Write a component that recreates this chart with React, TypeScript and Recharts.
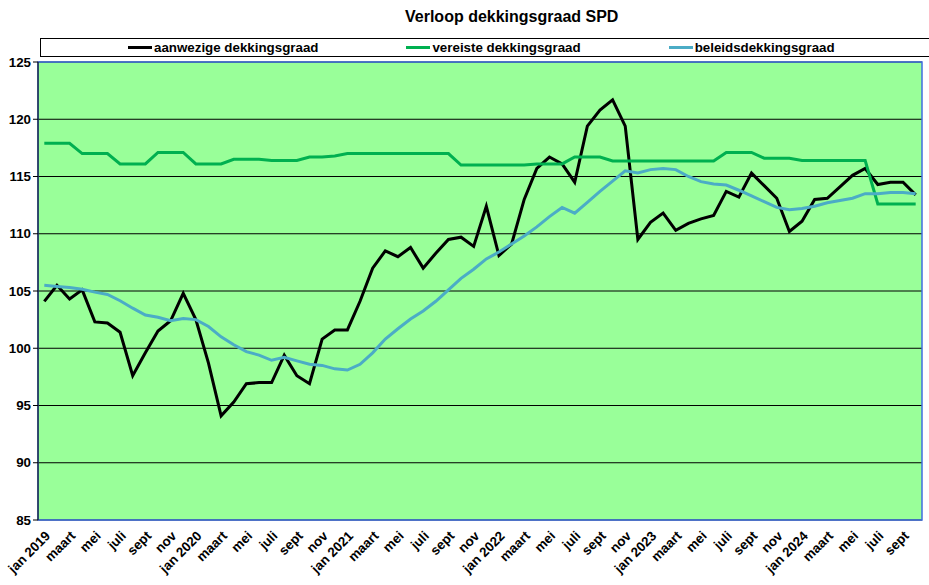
import React from 'react';
import { LineChart, Line, XAxis, YAxis, CartesianGrid, ReferenceArea } from 'recharts';

const title = 'Verloop dekkingsgraad SPD';

const categories = [
  'jan 2019', 'feb', 'maart', 'apr', 'mei', 'juni', 'juli', 'aug', 'sept', 'okt', 'nov', 'dec',
  'jan 2020', 'feb', 'maart', 'apr', 'mei', 'juni', 'juli', 'aug', 'sept', 'okt', 'nov', 'dec',
  'jan 2021', 'feb', 'maart', 'apr', 'mei', 'juni', 'juli', 'aug', 'sept', 'okt', 'nov', 'dec',
  'jan 2022', 'feb', 'maart', 'apr', 'mei', 'juni', 'juli', 'aug', 'sept', 'okt', 'nov', 'dec',
  'jan 2023', 'feb', 'maart', 'apr', 'mei', 'juni', 'juli', 'aug', 'sept', 'okt', 'nov', 'dec',
  'jan 2024', 'feb', 'maart', 'apr', 'mei', 'juni', 'juli', 'aug', 'sept', 'okt',
];

const aanwezige = [
  104.1, 105.5, 104.3, 105.1, 102.3, 102.2, 101.4, 97.6, 99.6, 101.5, 102.4, 104.8,
  102.5, 98.7, 94.1, 95.3, 96.9, 97.0, 97.0, 99.4, 97.6, 96.9, 100.8, 101.6,
  101.6, 104.1, 107.0, 108.5, 108.0, 108.8, 107.0, 108.3, 109.5, 109.7, 108.9, 112.4,
  108.1, 109.1, 113.0, 115.7, 116.7, 116.1, 114.5, 119.4, 120.8, 121.7, 119.4, 109.5,
  111.0, 111.8, 110.3, 110.9, 111.3, 111.6, 113.7, 113.2, 115.3, 114.2, 113.1, 110.2,
  111.1, 113.0, 113.1, 114.1, 115.1, 115.7, 114.3, 114.5, 114.5, 113.4,
];

const vereiste = [
  117.9, 117.9, 117.9, 117.0, 117.0, 117.0, 116.1, 116.1, 116.1, 117.1, 117.1, 117.1,
  116.1, 116.1, 116.1, 116.5, 116.5, 116.5, 116.4, 116.4, 116.4, 116.7, 116.7, 116.8,
  117.0, 117.0, 117.0, 117.0, 117.0, 117.0, 117.0, 117.0, 117.0, 116.0, 116.0, 116.0,
  116.0, 116.0, 116.0, 116.1, 116.1, 116.1, 116.7, 116.7, 116.7, 116.35, 116.35, 116.35,
  116.35, 116.35, 116.35, 116.35, 116.35, 116.35, 117.1, 117.1, 117.1, 116.6, 116.6, 116.6,
  116.4, 116.4, 116.4, 116.4, 116.4, 116.4, 112.6, 112.6, 112.6, 112.6,
];

const beleids = [
  105.5, 105.4, 105.3, 105.15, 104.9, 104.7, 104.15, 103.5, 102.9, 102.7, 102.4, 102.6,
  102.5, 101.9, 101.0, 100.3, 99.7, 99.4, 98.95, 99.2, 98.9, 98.6, 98.5, 98.2,
  98.1, 98.6, 99.6, 100.8, 101.7, 102.55, 103.25, 104.1, 105.1, 106.1, 106.9, 107.8,
  108.4, 109.1, 109.8, 110.6, 111.5, 112.3, 111.8, 112.75, 113.7, 114.6, 115.5, 115.3,
  115.6, 115.7, 115.6, 115.0, 114.55, 114.35, 114.25, 113.8, 113.3, 112.8, 112.3, 112.1,
  112.2, 112.4, 112.7, 112.9, 113.1, 113.5, 113.5, 113.6, 113.6, 113.5,
];

const yTicks = [85, 90, 95, 100, 105, 110, 115, 120, 125];

const series = [
  { key: 'aanwezige', name: 'aanwezige dekkingsgraad', color: '#000000' },
  { key: 'vereiste', name: 'vereiste dekkingsgraad', color: '#00B050' },
  { key: 'beleids', name: 'beleidsdekkingsgraad', color: '#4BACC6' },
];

const data = categories.map((c, i) => ({
  idx: i,
  label: c,
  aanwezige: aanwezige[i],
  vereiste: vereiste[i],
  beleids: beleids[i],
}));

const n = categories.length;
const boundaryTicks = [...categories.map((_, i) => i - 0.5), n - 0.5];
const labelTicks = categories.map((_, i) => i).filter((i) => i % 2 === 0);
const xDomain = [-0.5, n - 0.5];

const FONT = '"Liberation Sans", Arial, sans-serif';
const tickStyle = { fontFamily: FONT, fontSize: 13.33, fontWeight: 'bold', fill: '#000' };

export default function App() {
  return (
    <div style={{ position: 'absolute', left: 0, top: 0, width: 929, height: 585, background: '#fff', fontFamily: FONT }}>
      <div
        style={{
          position: 'absolute',
          left: 405,
          top: 7,
          fontSize: 16,
          fontWeight: 'bold',
          lineHeight: '20px',
          whiteSpace: 'nowrap',
          color: '#000',
        }}
      >
        {title}
      </div>
      <div
        style={{
          position: 'absolute',
          left: 40,
          top: 38,
          width: 880,
          height: 17,
          border: '1px solid #000',
          display: 'flex',
          alignItems: 'center',
          paddingLeft: 87,
          gap: 88,
          boxSizing: 'content-box',
        }}
      >
        {series.map((s) => (
          <div key={s.key} style={{ display: 'flex', alignItems: 'center', whiteSpace: 'nowrap' }}>
            <span style={{ display: 'inline-block', width: 24, height: 3, background: s.color, marginRight: 2 }} />
            <span style={{ fontSize: 13.33, fontWeight: 'bold', color: '#000', lineHeight: '17px' }}>{s.name}</span>
          </div>
        ))}
      </div>
      <div style={{ position: 'absolute', left: 0, top: 0 }}>
        <LineChart
          width={929}
          height={585}
          data={data}
          margin={{ top: 62, right: 7, bottom: 0, left: 0 }}
        >
          <CartesianGrid
            xAxisId="m"
            vertical={false}
            stroke="#000"
            strokeOpacity={1}
            fill="#99FF99"
            fillOpacity={1}
          />
          <ReferenceArea
            xAxisId="m"
            y1={85}
            y2={125}
            fill="none"
            stroke="#3F6FE0"
            strokeWidth={1.5}
            ifOverflow="visible"
          />
          <XAxis
            xAxisId="m"
            type="number"
            dataKey="idx"
            domain={xDomain}
            ticks={boundaryTicks}
            interval={0}
            tick={false}
            tickSize={5}
            height={0}
            axisLine={{ stroke: '#000', strokeWidth: 1 }}
            tickLine={{ stroke: '#000' }}
            allowDataOverflow
          />
          <XAxis
            xAxisId="lbl"
            type="number"
            dataKey="idx"
            domain={xDomain}
            ticks={labelTicks}
            interval={0}
            tickFormatter={(v: number) => categories[v]}
            angle={-45}
            textAnchor="end"
            tickSize={5}
            tickMargin={5}
            height={65}
            axisLine={false}
            tickLine={false}
            tick={tickStyle}
            allowDataOverflow
          />
          <YAxis
            domain={[85, 125]}
            ticks={yTicks}
            interval={0}
            width={38}
            tickSize={5}
            tickMargin={2}
            axisLine={{ stroke: '#000', strokeWidth: 1 }}
            tickLine={{ stroke: '#000' }}
            tick={tickStyle}
            allowDataOverflow
          />
          {series.map((s) => (
            <Line
              key={s.key}
              xAxisId="m"
              type="linear"
              dataKey={s.key}
              name={s.name}
              stroke={s.color}
              strokeWidth={3}
              dot={false}
              activeDot={false}
              isAnimationActive={false}
            />
          ))}
        </LineChart>
      </div>
    </div>
  );
}
